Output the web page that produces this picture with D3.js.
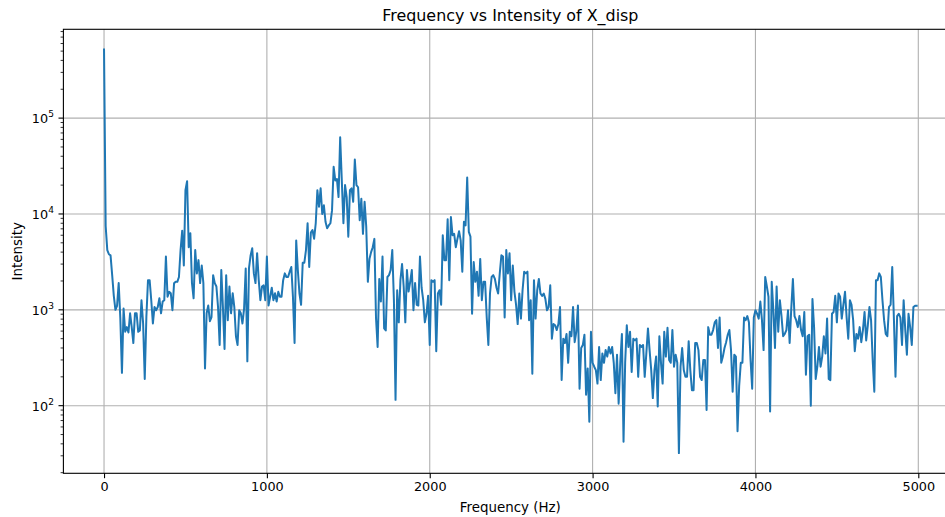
<!DOCTYPE html>
<html>
<head>
<meta charset="utf-8">
<script src="https://cdn.jsdelivr.net/npm/d3@7/dist/d3.min.js"></script>
<style>
  body { margin: 0; background: #fff; }
  svg { display: block; font-family: "DejaVu Sans", sans-serif; }
</style>
</head>
<body>
<svg id="chart" width="945" height="517"></svg>
<script>
const chartTitle = "Frequency vs Intensity of X_disp";
const xLabel = "Frequency (Hz)";
const yLabel = "Intensity";

// spectrum, one value every 10 Hz from 0 Hz
const freqStep = 10;
const intensity = [
  520000, 7500, 4200, 3800, 3700, 2300, 1400, 1000, 1100, 1900,
  820, 220, 1030, 590, 660, 580, 920, 660, 450, 920,
  920, 590, 610, 1260, 720, 190, 840, 2040, 2040, 1260,
  720, 1070, 990, 1070, 1320, 920, 1220, 1260, 3600, 1370,
  1540, 1490, 990, 1890, 1960, 1960, 2200, 4200, 6700, 2900,
  17700, 22000, 4500, 6300, 1900, 1320, 4200, 2400, 3300, 1900,
  2900, 1900, 245, 920, 1110, 760, 840, 2300, 1900, 1750,
  1070, 430, 2600, 1070, 390, 2300, 780, 1750, 920, 1490,
  1070, 530, 430, 990, 920, 720, 1030, 2700, 290, 2700,
  3700, 4400, 2400, 1900, 3900, 2040, 1260, 1750, 1800, 1260,
  3600, 1110, 1370, 1700, 1260, 1490, 1220, 1540, 1370, 1370,
  2040, 2400, 2200, 2200, 2500, 2800, 1370, 450, 5300, 2600,
  1480, 1130, 3100, 3100, 4200, 8000, 2800, 6400, 6800, 5500,
  8000, 17700, 11900, 18500, 10000, 12300, 8300, 7100, 7600, 8000,
  10900, 31000, 22400, 23200, 15000, 63000, 22400, 8000, 20000, 15000,
  5800, 17700, 18500, 13400, 37000, 20000, 19000, 8600, 14400, 6200,
  13400, 7400, 1960, 3400, 4000, 4500, 5500, 830, 410, 2100,
  1220, 3600, 640, 610, 2200, 2300, 2600, 4200, 1260, 115,
  1600, 740, 2040, 3000, 1750, 740, 2600, 1550, 1960, 2600,
  990, 1900, 1130, 1110, 3600, 1700, 1260, 740, 910, 1400,
  430, 2040, 1960, 2040, 370, 1480, 1600, 1130, 6000, 3300,
  3300, 8800, 2040, 9300, 6000, 6200, 4500, 5500, 6600, 5300,
  2500, 8300, 7600, 24000, 6500, 5800, 910, 3150, 1960, 2500,
  1400, 3400, 1260, 1960, 1960, 830, 430, 1480, 2200, 2300,
  2100, 1700, 1480, 2400, 3700, 3600, 830, 4200, 2400, 3900,
  1260, 2900, 1550, 1130, 710, 1480, 810, 1600, 2500, 2400,
  2500, 780, 1260, 215, 2040, 810, 1600, 2100, 1480, 1400,
  1480, 1300, 990, 1070, 1800, 500, 710, 690, 615, 710,
  1070, 185, 500, 450, 560, 280, 590, 530, 1070, 460,
  590, 1110, 150, 400, 430, 550, 130, 245, 68, 590,
  280, 255, 235, 170, 410, 185, 350, 280, 380, 325,
  410, 350, 410, 280, 135, 340, 105, 280, 560, 42,
  280, 690, 410, 590, 225, 500, 480, 500, 200, 430,
  410, 430, 200, 350, 640, 380, 235, 120, 235, 325,
  98, 530, 280, 170, 590, 325, 650, 300, 280, 615,
  255, 340, 280, 32, 255, 400, 235, 200, 200, 470,
  235, 145, 145, 450, 450, 380, 200, 185, 300, 300,
  90, 660, 550, 550, 615, 740, 780, 400, 830, 280,
  325, 400, 460, 550, 615, 380, 140, 340, 325, 54,
  160, 280, 280, 830, 780, 860, 740, 300, 150, 830,
  990, 910, 810, 1220, 780, 380, 2200, 1750, 1370, 87,
  1960, 990, 400, 1750, 590, 1260, 860, 530, 560, 615,
  990, 450, 1030, 2100, 860, 780, 660, 860, 615, 530,
  950, 210, 530, 550, 100, 1300, 660, 190, 255, 410,
  255, 325, 530, 350, 810, 190, 185, 910, 950, 1400,
  740, 1480, 1370, 810, 1130, 1540, 830, 500, 1260, 1130,
  780, 370, 560, 500, 660, 460, 615, 950, 480, 690,
  1070, 780, 300, 140, 2040, 2040, 2400, 2200, 1260, 780,
  560, 530, 1070, 1130, 2800, 830, 200, 860, 910, 830,
  430, 1260, 615, 340, 910, 660, 430, 1070, 1100, 1100
];
const frequencies = intensity.map((d, i) => i * freqStep);

const xTicks = [0, 1000, 2000, 3000, 4000, 5000];
const yTickExps = [2, 3, 4, 5];

const svg = d3.select("#chart");
const plot = { left: 63.4, top: 29.3, right: 957.3, bottom: 473.3 };

// matplotlib style 5% margins (in log space for y)
const xExt = d3.extent(frequencies);
const xPad = (xExt[1] - xExt[0]) * 0.05;
const x = d3.scaleLinear()
  .domain([xExt[0] - xPad, xExt[1] + xPad])
  .range([plot.left, plot.right]);

const yExt = d3.extent(intensity).map(Math.log10);
const yPad = (yExt[1] - yExt[0]) * 0.05;
const y = d3.scaleLog()
  .domain([Math.pow(10, yExt[0] - yPad), Math.pow(10, yExt[1] + yPad)])
  .range([plot.bottom, plot.top]);

const gridColor = "#b0b0b0";

// grid
svg.append("g").selectAll("line").data(xTicks).join("line")
  .attr("x1", d => x(d)).attr("x2", d => x(d))
  .attr("y1", plot.top).attr("y2", plot.bottom)
  .attr("stroke", gridColor).attr("stroke-width", 1.1);

svg.append("g").selectAll("line").data(yTickExps).join("line")
  .attr("x1", plot.left).attr("x2", plot.right)
  .attr("y1", d => y(Math.pow(10, d))).attr("y2", d => y(Math.pow(10, d)))
  .attr("stroke", gridColor).attr("stroke-width", 1.1);

// data line
const line = d3.line()
  .x((d, i) => x(frequencies[i]))
  .y(d => y(d));

svg.append("path")
  .datum(intensity)
  .attr("fill", "none")
  .attr("stroke", "#1f77b4")
  .attr("stroke-width", 2)
  .attr("stroke-linejoin", "round")
  .attr("stroke-linecap", "square")
  .attr("d", line);

// spines (right one falls outside the picture)
svg.append("rect")
  .attr("x", plot.left).attr("y", plot.top)
  .attr("width", plot.right - plot.left).attr("height", plot.bottom - plot.top)
  .attr("fill", "none").attr("stroke", "#000").attr("stroke-width", 1.1);

// x axis
const xAxis = d3.axisBottom(x).tickValues(xTicks).tickSize(4.9).tickPadding(4).tickFormat(d3.format("d"));
const gx = svg.append("g").attr("transform", `translate(0,${plot.bottom})`).call(xAxis);
gx.select(".domain").remove();
gx.selectAll(".tick line").attr("stroke", "#000").attr("stroke-width", 1.1);
gx.selectAll(".tick text").attr("font-size", 12.8).attr("fill", "#000")
  .attr("font-family", "DejaVu Sans, sans-serif");

// y axis, minor ticks
const [ylo, yhi] = y.domain();
const minorVals = [];
for (let e = Math.floor(Math.log10(ylo)); e <= Math.ceil(Math.log10(yhi)); e++) {
  for (let m = 2; m <= 9; m++) {
    const v = m * Math.pow(10, e);
    if (v >= ylo && v <= yhi) minorVals.push(v);
  }
}
svg.append("g").selectAll("line").data(minorVals).join("line")
  .attr("x1", plot.left - 2.8).attr("x2", plot.left)
  .attr("y1", d => y(d)).attr("y2", d => y(d))
  .attr("stroke", "#000").attr("stroke-width", 0.8);

const yMajor = svg.append("g").selectAll("g").data(yTickExps).join("g")
  .attr("transform", d => `translate(0,${y(Math.pow(10, d))})`);
yMajor.append("line")
  .attr("x1", plot.left - 4.9).attr("x2", plot.left)
  .attr("stroke", "#000").attr("stroke-width", 1.1);
const ylab = yMajor.append("text")
  .attr("x", plot.left - 9.5).attr("y", 5)
  .attr("text-anchor", "end")
  .attr("font-size", 12.8).attr("fill", "#000");
ylab.append("tspan").text("10");
ylab.append("tspan").attr("dy", -6).attr("font-size", 9).text(d => d);

// titles
svg.append("text")
  .attr("x", (plot.left + plot.right) / 2).attr("y", 21)
  .attr("text-anchor", "middle").attr("font-size", 15.9).attr("fill", "#000")
  .text(chartTitle);

svg.append("text")
  .attr("x", (plot.left + plot.right) / 2).attr("y", 512)
  .attr("text-anchor", "middle").attr("font-size", 13.4).attr("fill", "#000")
  .text(xLabel);

svg.append("text")
  .attr("transform", `translate(22,${(plot.top + plot.bottom) / 2}) rotate(-90)`)
  .attr("text-anchor", "middle").attr("font-size", 13.4).attr("fill", "#000")
  .text(yLabel);
</script>
</body>
</html>
